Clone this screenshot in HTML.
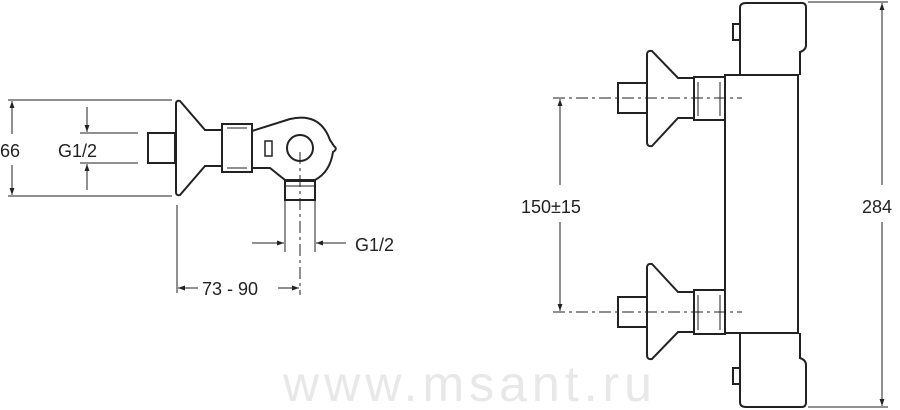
<!DOCTYPE html>
<html><head><style>
html,body{margin:0;padding:0;background:#fff;}
svg{display:block;}
text{font-family:"Liberation Sans",sans-serif;fill:#222;}
</style></head><body>
<svg width="900" height="410" viewBox="0 0 900 410" xmlns="http://www.w3.org/2000/svg">
<defs>
<marker id="a" viewBox="0 0 10 10" refX="10" refY="5" markerWidth="9" markerHeight="7" orient="auto-start-reverse" markerUnits="userSpaceOnUse"><path d="M0,1.5 L10,5 L0,8.5 Z" fill="#222"/></marker>
</defs>
<text x="283" y="401" font-size="50" style="fill:#e8e8e8" letter-spacing="5">www.msant.ru</text>
<g stroke="#222" fill="none" stroke-width="1">
<line x1="8" y1="100" x2="172" y2="100"/>
<line x1="8" y1="196" x2="172" y2="196"/>
<line x1="12" y1="134" x2="12" y2="101" marker-end="url(#a)"/>
<line x1="12" y1="165" x2="12" y2="195" marker-end="url(#a)"/>
<line x1="80" y1="133" x2="138" y2="133"/>
<line x1="80" y1="163" x2="138" y2="163"/>
<line x1="87" y1="107" x2="87" y2="132" marker-end="url(#a)"/>
<line x1="87" y1="190" x2="87" y2="164" marker-end="url(#a)"/>
<line x1="177" y1="205" x2="177" y2="293"/>
<line x1="178" y1="288" x2="198" y2="288" marker-start="url(#a)"/>
<line x1="278" y1="288" x2="299" y2="288" marker-end="url(#a)"/>
<line x1="300" y1="152" x2="300" y2="295" stroke-dasharray="12,4,3,4"/>
<line x1="285" y1="200" x2="285" y2="252"/>
<line x1="315" y1="200" x2="315" y2="252"/>
<line x1="252" y1="243" x2="284" y2="243" marker-end="url(#a)"/>
<line x1="346" y1="243" x2="316" y2="243" marker-end="url(#a)"/>
</g>
<g stroke="#222" fill="none" stroke-width="2">
<rect x="148" y="133" width="27" height="30"/>
<path d="M176,104 Q176,100 180,101 L205,130 L222,130 L222,166 L205,166 L180,195 Q176,196 176,192 Z"/>
<rect x="222" y="124" width="30" height="48"/>
<line x1="227" y1="128" x2="247" y2="128" stroke-width="1"/>
<line x1="227" y1="168" x2="247" y2="168" stroke-width="1"/>
<path d="M252,131 L290,119 Q320,112 330,140 L334,146 Q338,149 333,152 Q330,172 315,180 L285,180 L270,168 L252,168"/>
<circle cx="300" cy="148" r="13"/>
<rect x="265" y="141" width="7" height="15" stroke-width="1.5"/>
<rect x="285" y="181" width="30" height="19"/>
<line x1="285" y1="186" x2="315" y2="186" stroke-width="1"/>
</g>
<text x="0" y="157" font-size="18">66</text>
<text x="58" y="157" font-size="18">G1/2</text>
<text x="355" y="251" font-size="18">G1/2</text>
<text x="202" y="295" font-size="18">73 - 90</text>
<g stroke="#222" fill="none" stroke-width="1">
<line x1="553" y1="98" x2="742" y2="98" stroke-dasharray="12,4,3,4"/>
<line x1="553" y1="312" x2="742" y2="312" stroke-dasharray="12,4,3,4"/>
<line x1="560" y1="185" x2="560" y2="99" marker-end="url(#a)"/>
<line x1="560" y1="222" x2="560" y2="311" marker-end="url(#a)"/>
<line x1="808" y1="2" x2="888" y2="2"/>
<line x1="808" y1="407" x2="888" y2="407"/>
<line x1="882" y1="185" x2="882" y2="3" marker-end="url(#a)"/>
<line x1="882" y1="222" x2="882" y2="406" marker-end="url(#a)"/>
</g>
<g stroke="#222" fill="none" stroke-width="2">
<rect x="725" y="75" width="73" height="258"/>
<path d="M740,75 L740,8 Q740,3 746,3 L802,3 Q806,3 806,8 L806,45 Q806,50 800,52 L800,75"/>
<rect x="733" y="24" width="7" height="16"/>
<path d="M740,333 L740,402 Q740,407 746,407 L802,407 Q806,407 806,402 L806,365 Q806,360 800,358 L800,333"/>
<rect x="733" y="368" width="7" height="16"/>
<rect x="618" y="83" width="29" height="30"/>
<path d="M647,55 Q647,50 652,51 L678,78 L694,78 L694,118 L678,118 L652,146 Q647,147 647,142 Z"/>
<rect x="694" y="77" width="31" height="43"/>
<rect x="618" y="297" width="29" height="30"/>
<path d="M647,268 Q647,263 652,264 L678,292 L694,292 L694,332 L678,332 L652,359 Q647,360 647,355 Z"/>
<rect x="694" y="290" width="31" height="44"/>
</g>
<g stroke="#222" stroke-width="1">
<line x1="698" y1="82" x2="698" y2="116"/><line x1="720" y1="82" x2="720" y2="116"/>
<line x1="698" y1="295" x2="698" y2="330"/><line x1="720" y1="295" x2="720" y2="330"/>
</g>
<text x="521" y="213" font-size="18">150±15</text>
<text x="862" y="213" font-size="18">284</text>
</svg>
</body></html>
